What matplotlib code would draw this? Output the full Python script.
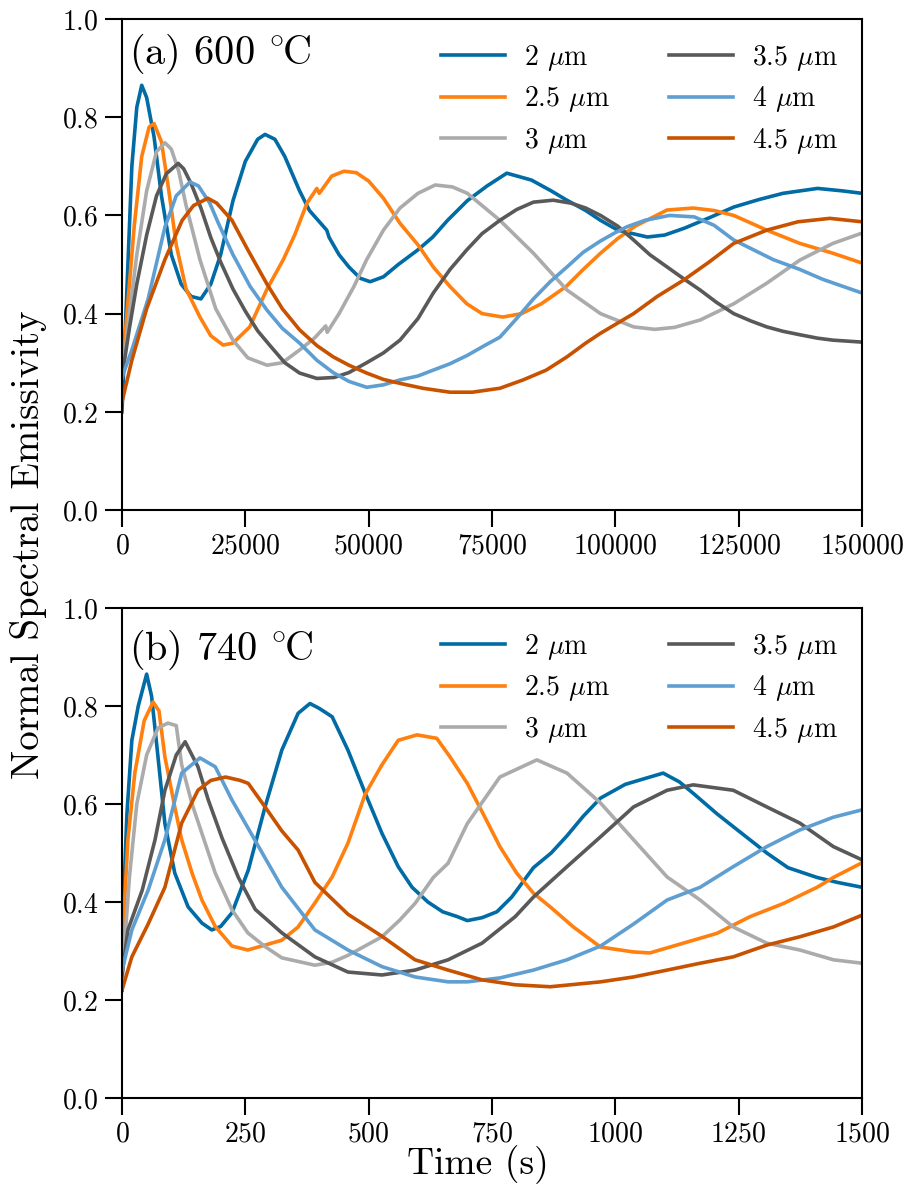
import numpy as np
import matplotlib
matplotlib.use("Agg")
import matplotlib.pyplot as plt

plt.rcParams["font.family"] = "cmr10"
plt.rcParams["mathtext.fontset"] = "cm"
plt.rcParams["axes.formatter.use_mathtext"] = True

labels = [r"2 $\mu$m", r"2.5 $\mu$m", r"3 $\mu$m", r"3.5 $\mu$m", r"4 $\mu$m", r"4.5 $\mu$m"]
colors = ["#006BA4", "#FF800E", "#ABABAB", "#595959", "#5F9ED1", "#C85200"]

# (a) 600 C, time in s
a_t_2 = [0, 1000, 2000, 3000, 4000, 5000, 6500, 8000, 10000, 12000, 14000, 16000, 18000, 20000, 22500, 25000,
         27500, 29000, 31000, 33000, 36000, 38000, 41500, 42000, 44000, 46000, 48300, 50300, 53000, 56000, 60000,
         63000, 66000, 70000, 74000, 78000, 83000, 87000, 90000, 94000, 97000, 100500, 106500, 110000, 114000,
         119000, 124000, 129000, 134000, 141000, 146000, 150000]
a_v_2 = [0.20, 0.45, 0.70, 0.82, 0.865, 0.84, 0.76, 0.64, 0.52, 0.46, 0.435, 0.43, 0.46, 0.52, 0.63, 0.71,
         0.755, 0.765, 0.755, 0.72, 0.65, 0.61, 0.57, 0.555, 0.52, 0.495, 0.472, 0.465, 0.475, 0.50, 0.53,
         0.556, 0.59, 0.63, 0.66, 0.686, 0.672, 0.65, 0.632, 0.61, 0.59, 0.57, 0.556, 0.56, 0.574,
         0.595, 0.617, 0.632, 0.645, 0.655, 0.65, 0.645]

a_t_25 = [0, 1000, 2500, 4000, 5500, 6500, 8000, 9500, 11000, 13000, 15800, 18000, 20500, 22500, 25900, 29400,
          32700, 35000, 37500, 39500, 40000, 42500, 45000, 47500, 50000, 53000, 56350, 60000, 63100, 66500, 69900,
          73000, 77200, 81000, 85000, 90000, 93500, 97000, 100500, 104000, 110500, 115800, 120000, 124000, 130700,
          137400, 144100, 150000]
a_v_25 = [0.27, 0.40, 0.58, 0.72, 0.78, 0.787, 0.75, 0.65, 0.54, 0.45, 0.393, 0.355, 0.336, 0.34, 0.373, 0.45,
          0.51, 0.56, 0.625, 0.655, 0.645, 0.68, 0.69, 0.687, 0.67, 0.635, 0.584, 0.54, 0.495, 0.455, 0.42,
          0.40, 0.393, 0.40, 0.42, 0.455, 0.49, 0.523, 0.553, 0.578, 0.611, 0.615, 0.61, 0.60, 0.57,
          0.543, 0.523, 0.503]

a_t_3 = [0, 1500, 3000, 5000, 7000, 8700, 10000, 11500, 13000, 15800, 19000, 22500, 25500, 29400, 32500, 36000,
         39000, 41300, 41600, 44000, 47000, 49600, 53000, 56350, 60000, 63500, 67000, 70000, 76600, 83400, 90200,
         97000, 103700, 108000, 112000, 117200, 124000, 130700, 137400, 144100, 150000]
a_v_3 = [0.27, 0.40, 0.52, 0.65, 0.73, 0.748, 0.735, 0.69, 0.62, 0.51, 0.41, 0.346, 0.31, 0.295, 0.30, 0.326,
         0.35, 0.375, 0.362, 0.40, 0.455, 0.51, 0.57, 0.615, 0.645, 0.662, 0.658, 0.645, 0.59, 0.523, 0.448,
         0.40, 0.373, 0.368, 0.372, 0.387, 0.42, 0.462, 0.509, 0.543, 0.564]

a_t_35 = [0, 1500, 3000, 5000, 7000, 9000, 11400, 12500, 14000, 16000, 18000, 20000, 22500, 25000, 27500, 30000,
          33000, 36000, 39500, 43000, 46000, 49600, 53000, 56350, 60000, 63100, 66500, 69900, 73000, 76600, 80000,
          83400, 87400, 91000, 94000, 97000, 100500, 103700, 107000, 110500, 114000, 117200, 120500, 124000,
          127500, 130700, 134000, 137400, 141000, 144100, 150000]
a_v_35 = [0.27, 0.37, 0.46, 0.56, 0.64, 0.685, 0.706, 0.695, 0.665, 0.615, 0.555, 0.505, 0.45, 0.405, 0.365, 0.335,
          0.30, 0.279, 0.268, 0.27, 0.28, 0.30, 0.32, 0.346, 0.39, 0.442, 0.49, 0.53, 0.563, 0.59, 0.612,
          0.627, 0.631, 0.625, 0.615, 0.60, 0.578, 0.55, 0.52, 0.495, 0.47, 0.448, 0.423, 0.40,
          0.385, 0.373, 0.364, 0.357, 0.35, 0.346, 0.342]

a_t_4 = [0, 2000, 5300, 8700, 11000, 13800, 15500, 17800, 19500, 22500, 26000, 29400, 32500, 36000, 39500, 42800,
         46000, 49600, 53000, 56350, 60000, 63100, 66500, 70000, 73500, 76600, 80000, 83400, 86800, 90200, 93500,
         97000, 100000, 102400, 106000, 111000, 116000, 120000, 124000, 128000, 132000, 137400, 142000, 146000,
         150000]
a_v_4 = [0.27, 0.326, 0.43, 0.576, 0.64, 0.668, 0.66, 0.625, 0.585, 0.52, 0.455, 0.407, 0.37, 0.34, 0.305, 0.28,
         0.262, 0.25, 0.255, 0.265, 0.273, 0.285, 0.298, 0.315, 0.335, 0.352, 0.39, 0.43, 0.465, 0.495, 0.525,
         0.548, 0.565, 0.577, 0.59, 0.60, 0.597, 0.58, 0.55, 0.53, 0.51, 0.49, 0.47, 0.456,
         0.442]

a_t_45 = [0, 2000, 5000, 8700, 12200, 14500, 17400, 19200, 22300, 25500, 29400, 32500, 36000, 39500, 42800, 46000,
          49600, 53000, 56350, 61000, 66500, 71000, 76600, 81300, 86000, 90200, 94000, 97000, 103700, 108500,
          113800, 119000, 124000, 130700, 137000, 143500, 150000]
a_v_45 = [0.22, 0.305, 0.41, 0.51, 0.59, 0.62, 0.635, 0.625, 0.59, 0.53, 0.46, 0.41, 0.367, 0.335, 0.312, 0.295,
          0.279, 0.266, 0.258, 0.248, 0.24, 0.24, 0.248, 0.265, 0.285, 0.312, 0.34, 0.36, 0.40, 0.435,
          0.468, 0.505, 0.543, 0.57, 0.587, 0.594, 0.587]

# (b) 740 C, time in s
b_t_2 = [0, 5, 10, 20, 33, 50, 60, 73, 87, 107, 134, 162, 182, 200, 223, 256, 290, 324, 357, 381, 400, 426, 458,
         493, 527, 560, 588, 620, 650, 680, 700, 730, 760, 790, 834, 870, 902, 935, 970, 1020, 1060, 1097, 1130,
         1160, 1206, 1250, 1307, 1350, 1409, 1450, 1500]
b_v_2 = [0.22, 0.45, 0.58, 0.73, 0.80, 0.865, 0.82, 0.696, 0.56, 0.459, 0.39, 0.357, 0.343, 0.35, 0.378, 0.465,
         0.594, 0.71, 0.785, 0.805, 0.795, 0.778, 0.71, 0.622, 0.54, 0.472, 0.43, 0.40, 0.38, 0.37, 0.362, 0.368,
         0.38, 0.41, 0.47, 0.50, 0.535, 0.575, 0.612, 0.64, 0.652, 0.663, 0.645, 0.62, 0.58, 0.545, 0.50, 0.47,
         0.45, 0.44, 0.43]

b_t_25 = [0, 12, 26, 45, 63, 75, 87, 107, 121, 142, 162, 189, 223, 255, 290, 324, 357, 391, 426, 458, 493, 527,
          560, 598, 638, 665, 700, 732, 766, 800, 834, 868, 915, 970, 1037, 1070, 1138, 1206, 1273, 1341, 1409,
          1442, 1500]
b_v_25 = [0.30, 0.527, 0.663, 0.77, 0.808, 0.79, 0.696, 0.594, 0.527, 0.459, 0.404, 0.35, 0.31, 0.302, 0.312,
          0.322, 0.349, 0.398, 0.451, 0.52, 0.62, 0.68, 0.73, 0.741, 0.734, 0.696, 0.642, 0.58, 0.513, 0.459,
          0.418, 0.39, 0.349, 0.308, 0.298, 0.296, 0.316, 0.336, 0.37, 0.397, 0.43, 0.45, 0.48]

b_t_3 = [0, 15, 30, 50, 73, 93, 110, 121, 142, 162, 189, 223, 255, 290, 324, 391, 426, 458, 527, 563, 594, 631,
         661, 700, 766, 841, 902, 970, 1037, 1105, 1172, 1239, 1307, 1374, 1442, 1500]
b_v_3 = [0.24, 0.45, 0.60, 0.70, 0.755, 0.765, 0.76, 0.68, 0.60, 0.54, 0.459, 0.384, 0.337, 0.309, 0.286, 0.271,
         0.277, 0.291, 0.329, 0.363, 0.397, 0.45, 0.479, 0.56, 0.655, 0.69, 0.663, 0.602, 0.527, 0.451, 0.404,
         0.349, 0.316, 0.302, 0.282, 0.275]

b_t_35 = [0, 12, 41, 67, 87, 110, 128, 154, 175, 203, 236, 270, 324, 391, 458, 527, 594, 661, 730, 797, 834, 902,
          970, 1037, 1105, 1158, 1239, 1307, 1374, 1442, 1500]
b_v_35 = [0.25, 0.343, 0.424, 0.527, 0.628, 0.70, 0.727, 0.676, 0.608, 0.53, 0.45, 0.385, 0.337, 0.288, 0.257,
          0.251, 0.261, 0.282, 0.316, 0.37, 0.41, 0.472, 0.533, 0.594, 0.628, 0.639, 0.628, 0.594, 0.561, 0.513,
          0.486]

b_t_4 = [0, 20, 53, 87, 121, 158, 189, 223, 256, 290, 324, 391, 458, 527, 594, 661, 700, 766, 834, 902, 970, 1037,
         1105, 1172, 1239, 1307, 1374, 1442, 1500]
b_v_4 = [0.26, 0.343, 0.424, 0.527, 0.663, 0.694, 0.676, 0.608, 0.55, 0.49, 0.43, 0.343, 0.302, 0.268, 0.247,
         0.237, 0.237, 0.245, 0.261, 0.282, 0.31, 0.355, 0.404, 0.43, 0.472, 0.513, 0.547, 0.573, 0.588]

b_t_45 = [0, 20, 53, 87, 121, 154, 180, 210, 240, 256, 290, 324, 357, 391, 458, 527, 594, 661, 730, 797, 868, 970,
          1037, 1105, 1172, 1239, 1307, 1374, 1442, 1500]
b_v_45 = [0.22, 0.288, 0.355, 0.43, 0.561, 0.628, 0.648, 0.655, 0.648, 0.642, 0.594, 0.545, 0.506, 0.44, 0.375,
          0.33, 0.282, 0.261, 0.241, 0.231, 0.227, 0.237, 0.247, 0.261, 0.275, 0.288, 0.312, 0.329, 0.349, 0.373]


def plot_panel(ax, times, values, xmax, xticks, panel_label, label_y):
    for t, v, lab, col in zip(times, values, labels, colors):
        ax.plot(t, v, color=col, lw=2.6, label=lab)
    ax.set_xlim(0, xmax)
    ax.set_ylim(0, 1)
    ax.set_xticks(xticks)
    ax.set_yticks(np.arange(0, 1.01, 0.2))
    ax.tick_params(axis="both", which="major", direction="out", length=12, width=1.5, labelsize=20, pad=5)
    for sp in ax.spines.values():
        sp.set_linewidth(1.5)
    ax.text(0.01, label_y, panel_label, transform=ax.transAxes, fontsize=29, va="center", ha="left")
    ax.legend(loc="upper right", ncol=2, frameon=False, fontsize=20, handlelength=2.3, handletextpad=0.7,
              columnspacing=2.1, labelspacing=0.42, borderaxespad=0.45)


fig = plt.figure(figsize=(9.11, 11.87), dpi=100)
ax1 = fig.add_axes([0.1339, 0.5703, 0.8123, 0.4137])
ax2 = fig.add_axes([0.1339, 0.075, 0.8123, 0.4128])

plot_panel(ax1, [a_t_2, a_t_25, a_t_3, a_t_35, a_t_4, a_t_45],
           [a_v_2, a_v_25, a_v_3, a_v_35, a_v_4, a_v_45],
           150000, [0, 25000, 50000, 75000, 100000, 125000, 150000], r"(a) 600 $^{\circ}\!\!\:\mathrm{C}$", 0.93)
plot_panel(ax2, [b_t_2, b_t_25, b_t_3, b_t_35, b_t_4, b_t_45],
           [b_v_2, b_v_25, b_v_3, b_v_35, b_v_4, b_v_45],
           1500, [0, 250, 500, 750, 1000, 1250, 1500], r"(b) 740 $^{\circ}\!\!\:\mathrm{C}$", 0.915)

fig.text(0.031, 0.541, "Normal Spectral Emissivity", rotation=90, fontsize=28, va="center", ha="center")
fig.text(0.525, 0.019, "Time (s)", fontsize=27, va="center", ha="center")

fig.savefig("out.png", dpi=100)
